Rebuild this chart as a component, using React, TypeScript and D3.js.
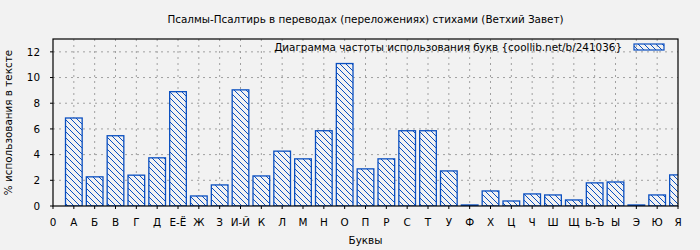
import React from "react";
import * as d3 from "d3";

const categories = ["0", "А", "Б", "В", "Г", "Д", "Е-Ё", "Ж", "З", "И-Й", "К", "Л", "М", "Н", "О", "П", "Р", "С", "Т", "У", "Ф", "Х", "Ц", "Ч", "Ш", "Щ", "Ь-Ъ", "Ы", "Э", "Ю", "Я"];
const barLetters = ["А", "Б", "В", "Г", "Д", "Е-Ё", "Ж", "З", "И-Й", "К", "Л", "М", "Н", "О", "П", "Р", "С", "Т", "У", "Ф", "Х", "Ц", "Ч", "Ш", "Щ", "Ь-Ъ", "Ы", "Э", "Ю", "Я"];
const barValues = [6.85, 2.27, 5.47, 2.4, 3.75, 8.9, 0.78, 1.64, 9.04, 2.34, 4.27, 3.67, 5.86, 11.09, 2.89, 3.67, 5.86, 5.86, 2.73, 0.08, 1.17, 0.39, 0.94, 0.86, 0.47, 1.8, 1.87, 0.08, 0.86, 2.42];
const yTicks = [0, 2, 4, 6, 8, 10, 12];

const title = "Псалмы-Псалтирь в переводах (переложениях) стихами (Ветхий Завет)";
const legendLabel = "Диаграмма частоты использования букв {coollib.net/b/241036}";
const xLabel = "Буквы";
const yLabel = "% использования в тексте";

const W = 700, H = 250;
const L = 53, R = 678, T = 39, B = 206;
const BLUE = "#0a4fc0";
const FONT = "DejaVu Sans";
const FS = 10.4;

export default function App() {
  const x = d3.scaleLinear().domain([0, categories.length - 1]).range([L, R]);
  const y = d3.scaleLinear().domain([0, 13]).range([B, T]);
  const step = x(1) - x(0);
  const bw = step * 0.8;

  return (
    <svg width={W} height={H} style={{ position: "absolute", left: 0, top: 0, fontFamily: FONT }}>
      <defs>
        <pattern id="hatch" patternUnits="userSpaceOnUse" width="6" height="6">
          <path d="M-1,-1 L7,7 M-1,5 L1,7 M5,-1 L7,1" stroke={BLUE} strokeWidth="1" />
        </pattern>
        <clipPath id="plotclip">
          <rect x={L} y={T} width={R - L} height={B - T} />
        </clipPath>
      </defs>
      <rect x={0} y={0} width={W} height={H} fill="#f2f2f2" />
      <text x={(L + R) / 2} y={23} textAnchor="middle" fontSize={FS} fill="#000">{title}</text>

      {/* grid */}
      {yTicks.filter(t => t > 0).map(t => (
        <line key={"gy" + t} x1={L} x2={R} y1={y(t)} y2={y(t)} stroke="#a0a0a0" strokeDasharray="2,4" />
      ))}
      {categories.map((c, i) => (i > 0 && i < categories.length - 1) ? (
        <line key={"gx" + i} x1={x(i)} x2={x(i)} y1={T} y2={B} stroke="#a0a0a0" strokeDasharray="2,4" />
      ) : null)}

      {/* bars */}
      <g clipPath="url(#plotclip)">
        {barValues.map((v, i) => {
          const cx = x(i + 1);
          return (
            <g key={barLetters[i]}>
              <rect x={cx - bw / 2} y={y(v)} width={bw} height={B - y(v)} fill="#f2f2f2" />
              <rect x={cx - bw / 2} y={y(v)} width={bw} height={B - y(v)} fill="url(#hatch)" stroke={BLUE} strokeWidth={1.3} />
            </g>
          );
        })}
      </g>

      {/* frame */}
      <rect x={L} y={T} width={R - L} height={B - T} fill="none" stroke="#000" strokeWidth={1.2} />

      {/* y ticks */}
      {yTicks.map(t => (
        <g key={"yt" + t}>
          <line x1={L - 3} x2={L} y1={y(t)} y2={y(t)} stroke="#000" />
          <text x={40} y={y(t) + 3.7} textAnchor="end" fontSize={FS}>{t}</text>
        </g>
      ))}
      {/* x ticks */}
      {categories.map((c, i) => (
        <g key={"xt" + i}>
          <line x1={x(i)} x2={x(i)} y1={B} y2={B + 3} stroke="#000" />
          <text x={x(i)} y={225.5} textAnchor="middle" fontSize={FS}>{c}</text>
        </g>
      ))}

      <text x={(L + R) / 2} y={243.5} textAnchor="middle" fontSize={FS}>{xLabel}</text>
      <text transform={`translate(12,${(T + B) / 2}) rotate(-90)`} textAnchor="middle" fontSize={FS}>{yLabel}</text>

      {/* legend */}
      <text x={622} y={50.5} textAnchor="end" fontSize={FS}>{legendLabel}</text>
      <rect x={634} y={44} width={30} height={6} fill="url(#hatch)" stroke={BLUE} strokeWidth={1.2} />
    </svg>
  );
}
